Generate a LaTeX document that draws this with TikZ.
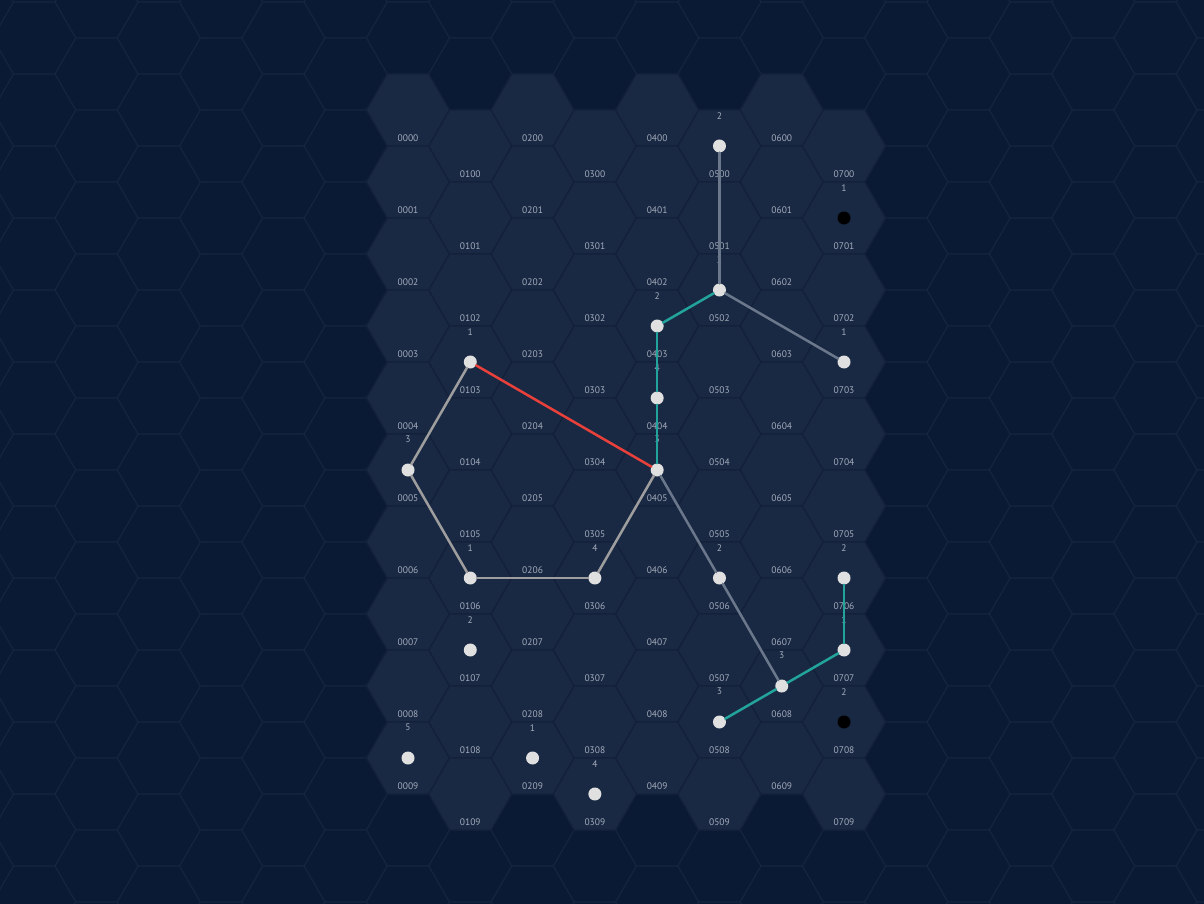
\documentclass[tikz,border=0pt]{standalone}
\usepackage{fontspec}
\setmainfont{PT Sans}

\definecolor{bgblue}{HTML}{0A1A34}
\definecolor{bgedge}{HTML}{14243F}
\definecolor{maphex}{HTML}{1A2943}
\definecolor{mapedge}{HTML}{142039}
\definecolor{labelgray}{HTML}{A3ABBA}
\definecolor{dotgray}{HTML}{E0E0E0}
\definecolor{routegray}{HTML}{9E9E9E}
\definecolor{routeslate}{HTML}{6B788C}
\definecolor{routeteal}{HTML}{22A39B}
\definecolor{routered}{HTML}{E8403A}

\tikzset{
    hexcell/.style={fill=maphex, draw=mapedge, line width=1.2pt},
    backcell/.style={fill=bgblue, draw=bgedge, line width=1.2pt},
    hexlabel/.style={text=labelgray, font=\fontsize{9.5}{10}\selectfont, inner sep=0pt},
    numlabel/.style={text=labelgray, font=\fontsize{9.5}{10}\selectfont, inner sep=0pt},
    world/.style={circle, fill=dotgray, minimum size=13pt, inner sep=0pt,
        label={[numlabel, label distance=20pt]above:#1}},
    voidworld/.style={circle, fill=black, minimum size=13pt, inner sep=0pt,
        label={[numlabel, label distance=20pt]above:#1}},
    route/.style={line width=2.5pt, line cap=round}
}

\newcommand{\hexat}[3]{% style, x, y
    \path[#1] ({#2},{#3}) ++(-41.53,0) -- ++(20.77,-35.96) -- ++(41.53,0)
        -- ++(20.77,35.96) -- ++(-20.77,35.96) -- ++(-41.53,0) -- cycle;
}

\begin{document}
\begin{tikzpicture}[x=1pt, y=-1pt]

\useasboundingbox (0,0) rectangle (1204,904);
\fill[bgblue] (0,0) rectangle (1204,904);

% background grid
\begin{scope}
\clip (0,0) rectangle (1204,904);
\foreach \c in {-7,...,13}
  \foreach \r in {-2,...,12}
    {\hexat{backcell}{408+62.29*\c}{110+36*mod(\c+8,2)+72*\r}}
\end{scope}

% subsector
\foreach \c in {0,...,7}
  \foreach \r in {0,...,9} {
    \hexat{hexcell}{408+62.29*\c}{110+36*mod(\c,2)+72*\r}
    \node[hexlabel] (l0\c0\r) at ({408+62.29*\c},{138+36*mod(\c,2)+72*\r}) {0\c0\r};
  }

% worlds
\foreach \c/\r/\n/\k in {5/0/2/world, 7/1/1/voidworld, 5/2/2/world, 4/3/2/world,
    7/3/1/world, 1/3/1/world, 4/4/4/world, 4/5/3/world, 0/5/3/world,
    1/6/1/world, 3/6/4/world, 5/6/2/world, 7/6/2/world, 1/7/2/world,
    7/7/1/world, 6/8/3/world, 5/8/3/world, 7/8/2/voidworld, 0/9/5/world,
    2/9/1/world, 3/9/4/world}
  \node[\k=\n] (s0\c0\r) at ({408+62.29*\c},{110+36*mod(\c,2)+72*\r}) {};

% routes
\draw[route, routeslate] (s0500) -- (s0502);
\draw[route, routeslate] (s0502) -- (s0703);
\draw[route, routeslate] (s0405) -- (s0506);
\draw[route, routeslate] (s0506) -- (s0608);

\draw[route, routeteal] (s0502) -- (s0403);
\draw[route, routeteal] (s0403) -- (s0404);
\draw[route, routeteal] (s0404) -- (s0405);
\draw[route, routeteal] (s0508) -- (s0608);
\draw[route, routeteal] (s0608) -- (s0707);
\draw[route, routeteal] (s0707) -- (s0706);

\draw[route, routered] (s0103) -- (s0405);

\draw[route, routegray] (s0103) -- (s0005);
\draw[route, routegray] (s0005) -- (s0106);
\draw[route, routegray] (s0106) -- (s0306);
\draw[route, routegray] (s0306) -- (s0405);

\end{tikzpicture}
\end{document}
